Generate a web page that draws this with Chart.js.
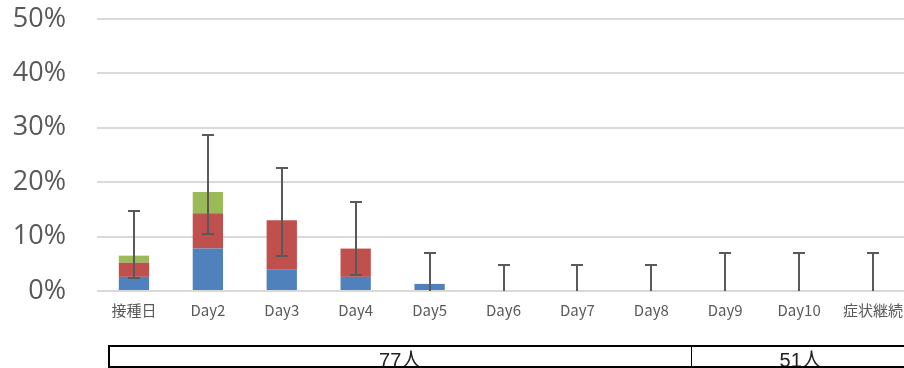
<!DOCTYPE html>
<html>
<head>
<meta charset="utf-8">
<script src="https://cdn.jsdelivr.net/npm/chart.js@4/dist/chart.umd.min.js"></script>
<style>
  html, body { margin: 0; padding: 0; background: #fff; overflow: hidden; }
  #wrap { position: relative; width: 910px; height: 368px; }
</style>
</head>
<body>
<div id="wrap"><canvas id="chart"></canvas></div>
<script>
// categories (x axis)
const days = ['接種日', 'Day2', 'Day3', 'Day4', 'Day5', 'Day6', 'Day7', 'Day8', 'Day9', 'Day10', '症状継続'];

// stacked series, percent
const blueVals  = [2.6, 7.8, 3.9, 2.6, 1.3, 0, 0, 0, 0, 0, 0];
const redVals   = [2.6, 6.5, 9.1, 5.2, 0, 0, 0, 0, 0, 0, 0];
const greenVals = [1.3, 3.9, 0, 0, 0, 0, 0, 0, 0, 0, 0];

// 95% interval for the total, percent
const errLow  = [2.3, 10.4, 6.5, 3.0, 0, 0, 0, 0, 0, 0, 0];
const errHigh = [14.7, 28.7, 22.6, 16.3, 7.0, 4.7, 4.7, 4.7, 7.0, 7.0, 7.0];

// y ticks
const yTicks = [0, 10, 20, 30, 40, 50];

// group row under the chart
const groupLabels = ['77人', '51人'];
const groupSizes = [8, 3]; // number of categories in each group

const grey = '#595959';

// error bars drawn on top of the stacks
const errorBars = {
    id: 'errorBars',
    afterDatasetsDraw(chart) {
        const { ctx, scales: { x, y } } = chart;
        ctx.save();
        ctx.strokeStyle = grey;
        ctx.lineWidth = 2;
        const cap = 6;
        days.forEach((d, i) => {
            const px = Math.round(x.getPixelForValue(i));
            const top = Math.round(y.getPixelForValue(errHigh[i]));
            const bot = Math.round(y.getPixelForValue(errLow[i]));
            ctx.beginPath();
            ctx.moveTo(px, bot);
            ctx.lineTo(px, top);
            ctx.moveTo(px - cap, top);
            ctx.lineTo(px + cap, top);
            if (errLow[i] > 0.05) {
                ctx.moveTo(px - cap, bot);
                ctx.lineTo(px + cap, bot);
            }
            ctx.stroke();
        });
        ctx.restore();
    }
};

// the "77人 / 51人" row
const groupRow = {
    id: 'groupRow',
    afterDraw(chart) {
        const { ctx, chartArea, scales: { x } } = chart;
        const step = x.getPixelForValue(1) - x.getPixelForValue(0);
        const left = x.getPixelForValue(0) - step / 2 + 12;
        const right = chart.width + 5;
        const top = chartArea.bottom + 55;
        const bottom = top + 21;
        ctx.save();

        let start = left;
        let idx = 0;
        ctx.font = '20px "Liberation Sans", "Noto Sans CJK JP", sans-serif';
        ctx.fillStyle = '#222';
        ctx.textAlign = 'center';
        ctx.textBaseline = 'alphabetic';
        const dividers = [];
        groupSizes.forEach((n, g) => {
            idx += n;
            const end = g === groupSizes.length - 1 ? right : (x.getPixelForValue(idx - 1) + x.getPixelForValue(idx)) / 2 + 3;
            ctx.fillText(groupLabels[g], (start + Math.min(end, chart.width)) / 2, bottom);
            if (g < groupSizes.length - 1) dividers.push(end);
            start = end;
        });

        ctx.strokeStyle = '#000';
        ctx.lineWidth = 2;
        ctx.strokeRect(left, top, right - left, bottom - top);
        ctx.lineWidth = 1;
        dividers.forEach(dx => {
            ctx.beginPath();
            ctx.moveTo(Math.round(dx) + 0.5, top);
            ctx.lineTo(Math.round(dx) + 0.5, bottom);
            ctx.stroke();
        });
        ctx.restore();
    }
};

new Chart(document.getElementById('chart'), {
    type: 'bar',
    data: {
        labels: days,
        datasets: [
            { label: 'blue', data: blueVals, backgroundColor: '#4f81bd' },
            { label: 'red', data: redVals, backgroundColor: '#c0504d' },
            { label: 'green', data: greenVals, backgroundColor: '#9bbb59' }
        ]
    },
    options: {
        responsive: true,
        maintainAspectRatio: false,
        animation: false,
        layout: { padding: { left: 13, right: 0, top: 19, bottom: 37 } },
        datasets: {
            bar: { categoryPercentage: 1, barPercentage: 0.41, borderWidth: 0 }
        },
        plugins: {
            legend: { display: false },
            tooltip: { enabled: false }
        },
        scales: {
            x: {
                stacked: true,
                grid: { display: false, drawTicks: false },
                border: { display: false },
                ticks: {
                    color: grey,
                    padding: 10,
                    maxRotation: 0,
                    autoSkip: false,
                    font: { family: '"Noto Sans CJK JP", "Liberation Sans", sans-serif', size: 15 }
                },
                afterFit(scale) {
                    scale.height = 40;
                    scale.paddingLeft = 0;
                    scale.paddingRight = 0;
                }
            },
            y: {
                stacked: true,
                min: 0,
                max: 50,
                afterBuildTicks(scale) {
                    scale.ticks = yTicks.map(v => ({ value: v }));
                },
                grid: { color: '#d9d9d9', lineWidth: 2, drawTicks: false },
                border: { display: false },
                ticks: {
                    color: grey,
                    padding: 31,
                    font: { family: '"Open Sans", "Liberation Sans", sans-serif', size: 27 },
                    callback: v => v + '%'
                },
                afterFit(scale) {
                    scale.width = 84;
                    scale.paddingTop = 0;
                    scale.paddingBottom = 0;
                }
            }
        }
    },
    plugins: [errorBars, groupRow]
});
</script>
</body>
</html>
